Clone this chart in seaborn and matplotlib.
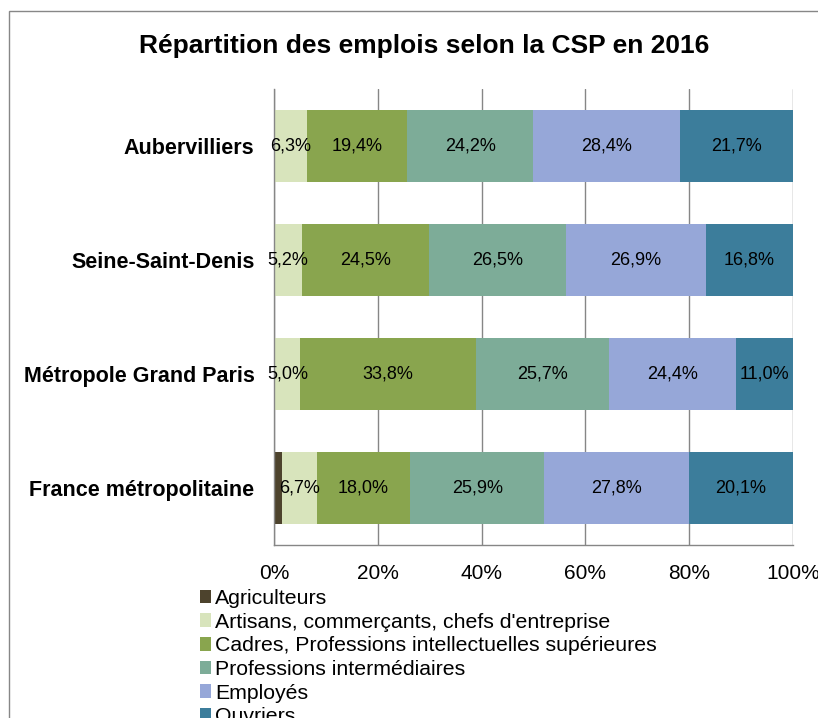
import numpy as np
import pandas as pd
import matplotlib.pyplot as plt
from matplotlib.patches import Patch, Rectangle
import seaborn as sns

territoires = ['Aubervilliers', 'Seine-Saint-Denis', 'Métropole Grand Paris', 'France métropolitaine']
csp = ['Agriculteurs', "Artisans, commerçants, chefs d'entreprise",
       'Cadres, Professions intellectuelles supérieures', 'Professions intermédiaires',
       'Employés', 'Ouvriers']
agriculteurs = [0.0, 0.1, 0.1, 1.5]
artisans = [6.3, 5.2, 5.0, 6.7]
cadres = [19.4, 24.5, 33.8, 18.0]
prof_inter = [24.2, 26.5, 25.7, 25.9]
employes = [28.4, 26.9, 24.4, 27.8]
ouvriers = [21.7, 16.8, 11.0, 20.1]
couleurs = ['#4d432d', '#d8e4bc', '#89a54e', '#7dac98', '#96a7d8', '#3c7d9b']

sns.set_style('white')
plt.rcParams['font.family'] = ['Liberation Sans', 'DejaVu Sans']
plt.rcParams['text.color'] = 'black'
plt.rcParams['xtick.color'] = 'black'
plt.rcParams['ytick.color'] = 'black'

valeurs = np.array([agriculteurs, artisans, cadres, prof_inter, employes, ouvriers])
cumul = np.cumsum(valeurs, axis=0)

fig = plt.figure(figsize=(8.18, 7.18), dpi=100)
ax = fig.add_axes([274 / 818, 1 - 545 / 718, (793 - 274) / 818, (545 - 89) / 718])

# stacked bars: draw the cumulative totals from the largest down
for i in reversed(range(len(csp))):
    sns.barplot(x=cumul[i], y=territoires, color=couleurs[i], orient='h',
                width=0.64, saturation=1, ax=ax, linewidth=0)

# data labels (no label for agriculteurs)
for i in range(1, len(csp)):
    for j in range(len(territoires)):
        v = valeurs[i, j]
        ax.text(cumul[i, j] - v / 2, j, f"{v:.1f}%".replace('.', ','),
                ha='center', va='center', fontsize=13, color='black')

ax.set_xlim(0, 100)
ax.set_ylim(3.5, -0.5)
ax.set_xticks(np.arange(0, 101, 20))
ax.set_xticklabels([f"{t}%" for t in range(0, 101, 20)], fontsize=15)
ax.set_yticks(range(len(territoires)))
ax.set_yticklabels(territoires, fontsize=15.5, fontweight='bold')
ax.tick_params(axis='x', length=0, pad=13.5)
ax.tick_params(axis='y', length=0, pad=14)
ax.xaxis.grid(True, color='#868686', lw=1)
ax.set_axisbelow(True)
ax.set_xlabel('')
ax.set_ylabel('')
for s in ['top', 'right']:
    ax.spines[s].set_visible(False)
for s in ['left', 'bottom']:
    ax.spines[s].set_color('#868686')
    ax.spines[s].set_linewidth(1)

fig.text(424 / 818, 1 - 46 / 718, 'Répartition des emplois selon la CSP en 2016',
         ha='center', va='center', fontsize=19, fontweight='bold')

handles = [Patch(facecolor=c, edgecolor='none', label=l) for c, l in zip(couleurs, csp)]
fig.legend(handles=handles, loc='upper left', bbox_to_anchor=(200 / 818, 1 - 589 / 718),
           frameon=False, fontsize=15.3, handlelength=0.5, handleheight=0.6,
           handletextpad=0.2, labelspacing=0.22, borderaxespad=0, borderpad=0)

# chart frame
fig.patches.append(Rectangle((9 / 818, -0.1), 1.2, 1 - 11 / 718 + 0.1,
                             transform=fig.transFigure, fill=False,
                             edgecolor='#878787', lw=1))

fig.savefig('out.png', dpi=100)
